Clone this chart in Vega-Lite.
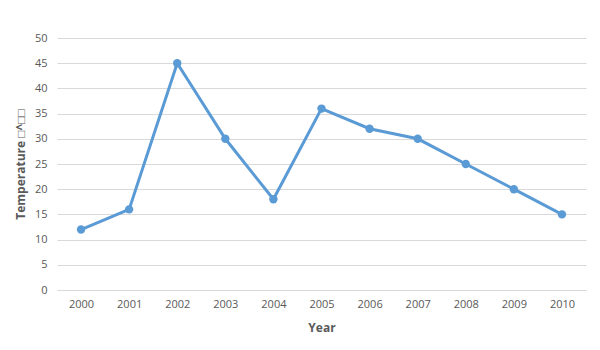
{
  "$schema": "https://vega.github.io/schema/vega-lite/v6.json",
  "width": 529,
  "height": 252,
  "autosize": {"type": "none"},
  "padding": {"left": 57, "top": 38, "right": 14, "bottom": 60},
  "background": "white",
  "config": {
    "view": {"stroke": null},
    "font": "Open Sans"
  },
  "data": {
    "values": [
      {"Year": "2000", "Temperature": 12},
      {"Year": "2001", "Temperature": 16},
      {"Year": "2002", "Temperature": 45},
      {"Year": "2003", "Temperature": 30},
      {"Year": "2004", "Temperature": 18},
      {"Year": "2005", "Temperature": 36},
      {"Year": "2006", "Temperature": 32},
      {"Year": "2007", "Temperature": 30},
      {"Year": "2008", "Temperature": 25},
      {"Year": "2009", "Temperature": 20},
      {"Year": "2010", "Temperature": 15}
    ]
  },
  "mark": {"type": "line", "color": "#5B9BD5", "strokeWidth": 3, "point": {"filled": true, "size": 70, "color": "#5B9BD5"}},
  "encoding": {
    "x": {
      "field": "Year", "type": "ordinal",
      "scale": {"paddingInner": 0, "paddingOuter": 0.5},
      "axis": {
        "title": "Year", "titleFontSize": 12, "titleFontWeight": "bold", "titleColor": "#595959", "titlePadding": 13,
        "labelAngle": 0, "labelFontSize": 11, "labelColor": "#595959", "labelPadding": 8,
        "ticks": false, "domainColor": "#D9D9D9", "grid": false
      }
    },
    "y": {
      "field": "Temperature", "type": "quantitative",
      "scale": {"domain": [0, 50], "nice": false},
      "axis": {
        "title": "Temperature □^□□", "titleFontSize": 12, "titleFontWeight": "bold", "titleColor": "#595959", "titlePadding": 7,
        "values": [0, 5, 10, 15, 20, 25, 30, 35, 40, 45, 50],
        "labelFontSize": 11, "labelColor": "#595959", "labelPadding": 10,
        "ticks": false, "domain": false, "gridColor": "#D9D9D9"
      }
    }
  }
}
